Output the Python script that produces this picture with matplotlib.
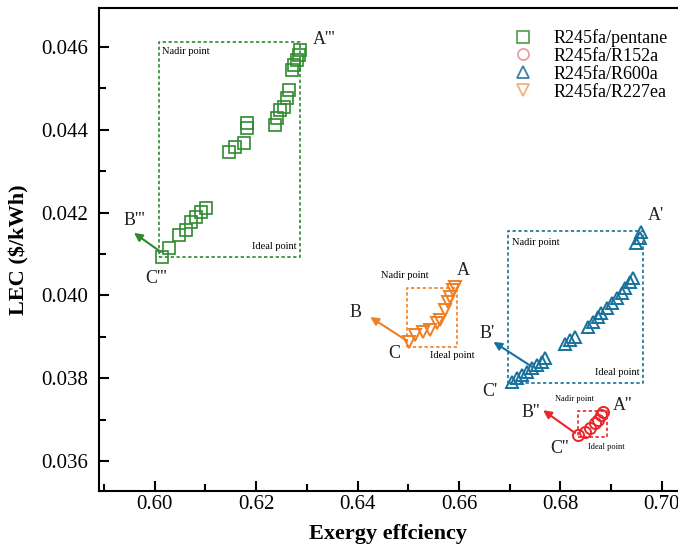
import numpy as np
import matplotlib.pyplot as plt
from matplotlib.lines import Line2D
from matplotlib.ticker import MultipleLocator, FormatStrFormatter

plt.rcParams['font.family'] = ['Liberation Serif', 'DejaVu Serif']

# R245fa/pentane (squares)
pent_x = [0.6015, 0.6028, 0.6048, 0.6061, 0.6071, 0.6081, 0.6091, 0.6102,
          0.6146, 0.6159, 0.6176, 0.6182, 0.6182,
          0.6238, 0.6242, 0.6248, 0.6255, 0.6261, 0.6264, 0.6271, 0.6274,
          0.6281, 0.6284, 0.6287]
pent_y = [0.04093, 0.04114, 0.04146, 0.04158, 0.04178, 0.04190, 0.04202, 0.04210,
          0.04347, 0.04359, 0.04367, 0.04404, 0.04416,
          0.04412, 0.04428, 0.04448, 0.04456, 0.04476, 0.04496, 0.04544, 0.04557,
          0.04569, 0.04581, 0.04593]

# R245fa/R152a (circles)
r152_x = [0.6835, 0.6848, 0.6858, 0.6868, 0.6874, 0.6881, 0.6884]
r152_y = [0.03663, 0.03671, 0.03679, 0.03691, 0.03699, 0.03711, 0.03719]

# R245fa/R600a (up triangles)
r600_x = [0.6704, 0.6714, 0.6724, 0.6734, 0.6744, 0.6753, 0.6763, 0.6770,
          0.6809, 0.6819, 0.6829,
          0.6855, 0.6865, 0.6875, 0.6881, 0.6891, 0.6901, 0.6911, 0.6921,
          0.6927, 0.6937, 0.6944,
          0.6950, 0.6957, 0.6960]
r600_y = [0.03792, 0.03800, 0.03808, 0.03816, 0.03824, 0.03832, 0.03840, 0.03848,
          0.03884, 0.03892, 0.03900,
          0.03924, 0.03936, 0.03949, 0.03957, 0.03969, 0.03981, 0.03993, 0.04005,
          0.04017, 0.04033, 0.04041,
          0.04126, 0.04138, 0.04154]

# R245fa/R227ea (down triangles)
r227_x = [0.6501, 0.6514, 0.6530, 0.6543, 0.6557, 0.6563, 0.6573, 0.6579,
          0.6583, 0.6589, 0.6593]
r227_y = [0.03888, 0.03904, 0.03912, 0.03916, 0.03933, 0.03941, 0.03965, 0.03985,
          0.03997, 0.04013, 0.04021]

# boxes: x0, x1, y0, y1 (ideal -> nadir)
pent_box = [0.6008, 0.6287, 0.04092, 0.04611]
r152_box = [0.6834, 0.6891, 0.03659, 0.03722]
r600_box = [0.6696, 0.6963, 0.03789, 0.04156]
r227_box = [0.6497, 0.6596, 0.03875, 0.04017]

# arrows C -> B
pent_arrow = [(0.6012, 0.04105), (0.5959, 0.04151)]
r152_arrow = [(0.6829, 0.03668), (0.6766, 0.03723)]
r600_arrow = [(0.6744, 0.03828), (0.6668, 0.03888)]
r227_arrow = [(0.6498, 0.03890), (0.6425, 0.03948)]

green = '#2f8a2f'
red = '#e8262b'
blue = '#17719c'
orange = '#f07f24'

fig = plt.figure(figsize=(6.78, 5.44), dpi=100)
ax = fig.add_axes([0.146, 0.0974, 0.854, 0.888])

ax.plot(pent_x, pent_y, 's', mfc='none', mec=green, ms=8, mew=1.2, ls='none')
ax.plot(r152_x, r152_y, 'o', mfc='none', mec=red, ms=8, mew=1.4, ls='none')
ax.plot(r600_x, r600_y, '^', mfc='none', mec=blue, ms=9, mew=1.4, ls='none')
ax.plot(r227_x, r227_y, 'v', mfc='none', mec=orange, ms=9, mew=1.4, ls='none')


def draw_box(b, color):
    x0, x1, y0, y1 = b
    ax.plot([x0, x1, x1, x0, x0], [y0, y0, y1, y1, y0], color=color,
            lw=1.2, ls=(0, (2, 1.5)))


def draw_arrow(a, color):
    ax.annotate('', xy=a[1], xytext=a[0],
                arrowprops=dict(arrowstyle='-|>', color=color, lw=1.5,
                                mutation_scale=12, shrinkA=0, shrinkB=0))


for b, c in [(pent_box, green), (r152_box, red), (r600_box, blue), (r227_box, orange)]:
    draw_box(b, c)
for a, c in [(pent_arrow, green), (r152_arrow, red), (r600_arrow, blue), (r227_arrow, orange)]:
    draw_arrow(a, c)

lab = dict(fontsize=13, color='#222222')
# pentane labels
ax.text(0.6311, 0.04617, "A'''", ha='left', va='center', **lab)
ax.text(0.5959, 0.04180, "B'''", ha='center', va='center', **lab)
ax.text(0.6002, 0.04040, "C'''", ha='center', va='center', **lab)
ax.text(0.6014, 0.04588, "Nadir point", ha='left', va='center', fontsize=7.5)
ax.text(0.6280, 0.04117, "Ideal point", ha='right', va='center', fontsize=7.5)
# R227ea labels
ax.text(0.6608, 0.04061, "A", ha='center', va='center', **lab)
ax.text(0.6396, 0.03960, "B", ha='center', va='center', **lab)
ax.text(0.6472, 0.03861, "C", ha='center', va='center', **lab)
ax.text(0.6494, 0.04049, "Nadir point", ha='center', va='center', fontsize=7.5)
ax.text(0.6543, 0.03856, "Ideal point", ha='left', va='center', fontsize=7.5)
# R600a labels
ax.text(0.6972, 0.04194, "A'", ha='left', va='center', **lab)
ax.text(0.6655, 0.03909, "B'", ha='center', va='center', **lab)
ax.text(0.6661, 0.03767, "C'", ha='center', va='center', **lab)
ax.text(0.6704, 0.04127, "Nadir point", ha='left', va='center', fontsize=7.5)
ax.text(0.6957, 0.03813, "Ideal point", ha='right', va='center', fontsize=7.5)
# R152a labels
ax.text(0.6904, 0.03735, "A''", ha='left', va='center', **lab)
ax.text(0.6742, 0.03718, "B''", ha='center', va='center', **lab)
ax.text(0.6799, 0.03631, "C''", ha='center', va='center', **lab)
ax.text(0.6827, 0.03750, "Nadir point", ha='center', va='center', fontsize=6)
ax.text(0.6854, 0.03634, "Ideal point", ha='left', va='center', fontsize=6)

ax.set_xlim(0.589, 0.7032)
ax.set_ylim(0.03528, 0.04694)
ax.xaxis.set_major_locator(MultipleLocator(0.02))
ax.xaxis.set_minor_locator(MultipleLocator(0.01))
ax.yaxis.set_major_locator(MultipleLocator(0.002))
ax.yaxis.set_minor_locator(MultipleLocator(0.001))
ax.xaxis.set_major_formatter(FormatStrFormatter('%.2f'))
ax.yaxis.set_major_formatter(FormatStrFormatter('%.3f'))
ax.tick_params(which='both', direction='in', width=1.5, labelsize=15)
ax.tick_params(which='major', length=7)
ax.tick_params(which='minor', length=5)
ax.tick_params(axis='x', pad=3)
ax.tick_params(axis='y', pad=8)
ax.spines['right'].set_visible(False)
for s in ['left', 'bottom', 'top']:
    ax.spines[s].set_linewidth(1.5)

ax.set_xlabel('Exergy effciency', fontsize=16, fontweight='bold', labelpad=7)
ax.set_ylabel(r'LEC (\$/kWh)', fontsize=16, fontweight='bold', labelpad=8)

handles = [
    Line2D([], [], marker='s', ls='none', mfc='none', mec='#5aa35a', ms=8, mew=1.3),
    Line2D([], [], marker='o', ls='none', mfc='none', mec='#e8a0a0', ms=8, mew=1.3),
    Line2D([], [], marker='^', ls='none', mfc='none', mec='#3d7fa3', ms=9, mew=1.3),
    Line2D([], [], marker='v', ls='none', mfc='none', mec='#f2b07c', ms=9, mew=1.3),
]
names = ['R245fa/pentane', 'R245fa/R152a', 'R245fa/R600a', 'R245fa/R227ea']
ax.legend(handles, names, loc='upper left', bbox_to_anchor=(0.685, 0.99),
          frameon=False, fontsize=13, handletextpad=1.1, labelspacing=0.05,
          handlelength=1.2)

fig.savefig('out.png', dpi=100)
